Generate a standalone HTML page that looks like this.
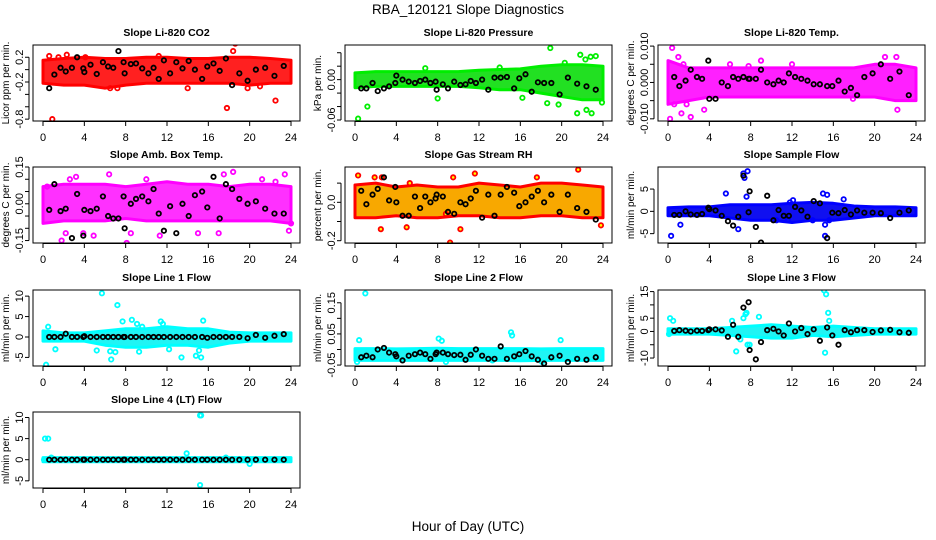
<!DOCTYPE html>
<html><head><meta charset="utf-8"><style>
html,body{margin:0;padding:0;background:#fff;}
svg{display:block;font-family:"Liberation Sans",Arial,sans-serif;}
</style></head><body>
<svg id="chart" width="936" height="540" viewBox="0 0 936 540" xmlns="http://www.w3.org/2000/svg">
<rect x="0" y="0" width="936" height="540" fill="#fff"/>
<text x="468" y="14" font-size="13.5" text-anchor="middle">RBA_120121  Slope Diagnostics</text>
<text x="468" y="531" font-size="13.5" text-anchor="middle">Hour of Day (UTC)</text>
</svg>
<script>
const hourTicks = [0,4,8,12,16,20,24];
const bandHours = [0,2,4,6,8,10,12,14,16,18,20,22,24];
const blackHours = [0.6,1.1,1.7,2.2,2.8,3.3,3.9,4.0,4.6,5.2,5.8,6.3,6.8,7.3,7.8,7.9,8.5,9.0,9.6,10.2,10.7,11.2,11.7,12.3,12.9,13.5,14.1,14.7,15.4,15.9,16.5,17.1,17.7,18.3,19.0,19.8,20.6,21.5,22.4,23.3];

const panelTitles = ["Slope Li-820 CO2","Slope Li-820 Pressure","Slope Li-820 Temp.","Slope Amb. Box Temp.","Slope Gas Stream RH","Slope Sample Flow","Slope Line 1 Flow","Slope Line 2 Flow","Slope Line 3 Flow","Slope Line 4 (LT) Flow"];
const yTitles = ["Licor ppm per min.","kPa per min.","degrees C per min.","degrees C per min.","percent per min.","ml/min per min.","ml/min per min.","ml/min per min.","ml/min per min.","ml/min per min."];
const yRanges = [[-0.83,0.398],[-0.0615,0.0515],[-0.0106,0.0103],[-0.16,0.15],[-0.212,0.184],[-7.1,9.95],[-7.1,11.5],[-0.053,0.191],[-13,15.6],[-6.7,11.3]];
const yTicks = [[0.2,0,-0.2,-0.4,-0.6,-0.8],[0.04,0.02,0,-0.02,-0.04,-0.06],[0.01,0.005,0,-0.005,-0.01],[0.15,0.1,0.05,0,-0.05,-0.1,-0.15],[0.1,0,-0.1,-0.2],[5,0,-5],[10,5,0,-5],[0.15,0.1,0.05,0,-0.05],[15,10,5,0,-5,-10],[10,5,0,-5]];
const yTickLabels = [["0.2","","-0.2","","","-0.8"],["","","0.00","","","-0.06"],["0.010","","0.000","","-0.010"],["0.15","","","0.00","","","-0.15"],["","0.0","","-0.2"],["5","0","-5"],["10","5","0","-5"],["0.15","","0.05","","-0.05"],["15","","5","0","","-10"],["10","5","0","-5"]];

const bandLo = [
[-0.22,-0.25,-0.25,-0.3,-0.25,-0.22,-0.22,-0.22,-0.22,-0.22,-0.25,-0.22,-0.22],
[-0.012,-0.01,-0.01,-0.01,-0.01,-0.01,-0.012,-0.015,-0.015,-0.02,-0.025,-0.03,-0.03],
[-0.006,-0.005,-0.004,-0.004,-0.004,-0.004,-0.004,-0.004,-0.004,-0.004,-0.004,-0.005,-0.005],
[-0.08,-0.07,-0.07,-0.07,-0.06,-0.07,-0.07,-0.07,-0.07,-0.07,-0.07,-0.07,-0.08],
[-0.08,-0.08,-0.07,-0.08,-0.08,-0.07,-0.07,-0.08,-0.08,-0.07,-0.07,-0.08,-0.08],
[-1,-1,-1,-1.5,-2,-2,-2.5,-2,-2,-1.5,-1,-1,-1],
[-1,-1,-1,-2,-2.5,-2.5,-2,-2,-2.5,-1.5,-1,-1,-1],
[-0.035,-0.035,-0.035,-0.035,-0.035,-0.035,-0.035,-0.035,-0.036,-0.035,-0.035,-0.035,-0.035],
[-1,-1,-1,-1.5,-2,-2.5,-2.5,-1.5,-2,-1.5,-1,-1,-1],
[-0.5,-0.5,-0.5,-0.5,-0.5,-0.5,-0.5,-0.5,-0.5,-0.5,-0.5,-0.5,-0.5]];
const bandHi = [
[0.15,0.18,0.2,0.18,0.18,0.2,0.2,0.18,0.18,0.2,0.2,0.18,0.15],
[0.01,0.012,0.012,0.012,0.012,0.012,0.014,0.015,0.016,0.02,0.022,0.022,0.02],
[0.006,0.004,0.004,0.004,0.004,0.004,0.004,0.004,0.004,0.004,0.005,0.005,0.004],
[0.07,0.08,0.08,0.08,0.07,0.08,0.09,0.08,0.08,0.07,0.08,0.08,0.07],
[0.09,0.1,0.08,0.09,0.08,0.08,0.1,0.09,0.08,0.1,0.1,0.09,0.08],
[0.8,1,1,1.5,1.5,1.5,1.8,2,1.8,1.2,1,1,0.8],
[1.5,1,1,1.5,2,2,2.5,2,2,1.2,1,1,1],
[0.003,0.003,0.002,0.003,0.004,0.003,0.003,0.003,0.003,0.002,0.003,0.003,0.003],
[1,1,1,1.5,2,2.5,2,1.5,2,1.5,1,1,1],
[0.5,0.5,0.5,0.5,0.5,0.5,0.5,0.5,0.5,0.5,0.5,0.5,0.5]];

const outX = [
[0.9,0.6,1.5,2.3,7.2,17.8,18.4,18.6,22.5,11.2,4.1,19.8,6.5,14,21],
[0.3,1.2,8.0,18.9,21.8,22.3,22.8,23.3,21.5,22.4,22.9,19.7,18.6,16.2,23.9,6.8,14.0,20.3],
[0.4,0.2,1.0,1.3,2.2,3.5,0.6,1.8,9.0,7.8,17.9,21.0,22.1,22.2,6.0,12.0,1.5],
[1.8,2.2,2.6,3.2,3.9,4.9,6.4,8.1,8.5,11.3,15.0,17.0,17.5,18.4,21.2,22.5,23.4,23.8,24.0,0.4,10.0],
[0.3,1.9,2.5,2.6,5.0,9.2,9.5,10.2,11.6,17.6,21.6,23.8,5.3,8.8],
[0.3,1.2,5.6,7.3,7.4,7.7,7.6,11.6,11.8,15.0,15.4,15.2,15.2,6.8,12.1,15.6,17.0,10.5,14.0],
[0.3,0.5,1.2,5.2,5.7,6.5,6.6,7.0,7.2,7.7,8.6,9.1,9.3,9.6,11.4,11.6,13.4,14.8,15.1,15.3,15.5,12.2,0.2],
[1.0,0.4,0.2,8.1,8.4,8.8,15.1,15.2,19.9,18.1,13.3],
[0.2,0.5,0.1,6.2,7.3,7.5,7.6,7.7,7.0,8.8,15.1,15.3,15.5,15.6,15.2,7.9,6.6],
[0.2,0.5,0.1,0.8,13.9,15.2,15.3,15.2,20,17.7]];
const outY = [
[-0.8,0.22,0.2,0.24,-0.3,-0.62,0.3,0.42,-0.5,0.22,0.2,-0.3,-0.3,-0.3,-0.27],
[-0.058,-0.04,-0.028,0.047,0.037,0.03,0.034,0.035,-0.05,-0.045,-0.05,-0.037,-0.035,-0.027,-0.034,0.017,0.018,0.025],
[0.0095,-0.01,0.007,-0.0085,-0.0095,-0.0075,-0.006,-0.006,0.006,0.0045,-0.0045,0.007,0.007,-0.0075,0.005,0.005,0.005],
[-0.15,-0.12,0.1,0.11,-0.12,-0.13,0.12,-0.16,-0.12,-0.13,-0.12,-0.12,0.12,0.13,0.1,0.09,0.12,-0.11,-0.08,0.07,0.1],
[0.14,0.13,-0.14,0.13,-0.13,-0.21,0.13,-0.14,0.15,0.13,0.17,-0.12,0.1,-0.06],
[-5.5,-3,4,8.5,7.5,9,3.3,-2,2,4,3.7,-5.5,-3,-4,2.5,-2,2.7,-2,-2],
[-6.8,2.5,-3,-3.3,10.7,-3.5,-5.5,-3.7,7.8,3.8,4.2,3.2,-3.6,2.5,3.8,3.2,-5,-4.6,-3.3,-5,4,-3,0.5],
[0.18,0.03,-0.04,0.035,0.028,-0.04,0.055,0.045,0.03,-0.04,-0.035],
[5,4,-1,4,5,6.5,7,-5,-3,5.5,15.5,14,7,4,-8,-5,-7.5],
[5,5,0,0.5,1.5,10.5,10.5,-6,-1,0.5]];

const blackY = [
[-0.3,-0.08,0.03,-0.03,0.03,0.2,0.02,-0.04,0.08,-0.07,0.12,0.05,0.03,0.3,0.12,-0.06,0.09,0.1,0.02,-0.06,0.03,-0.15,0.15,-0.06,0.12,0.02,0.14,0.0,-0.15,0.05,0.1,-0.02,0.18,-0.25,-0.06,-0.18,0.0,0.03,-0.1,0.06],
[-0.013,-0.013,-0.005,-0.017,-0.013,-0.01,-0.005,0.006,0.0,-0.003,-0.005,-0.002,0.0,-0.005,-0.003,-0.015,-0.007,-0.013,-0.003,-0.008,-0.007,-0.002,-0.005,0.0,-0.015,0.003,0.003,0.004,-0.013,0.002,0.008,-0.018,-0.004,-0.005,-0.005,-0.022,0.003,-0.006,-0.01,-0.015],
[0.0015,-0.001,0.0005,0.0035,0.0015,0.001,0.006,-0.0045,-0.0045,0.0,-0.001,0.0015,0.001,0.0015,0.001,0.001,0.001,0.0035,0.0,-0.0005,0.0005,0.0,0.0025,0.0015,0.001,0.0005,-0.0005,-0.0005,-0.001,-0.001,0.0005,-0.0025,-0.0015,-0.0035,0.0015,0.0025,0.005,0.001,0.003,-0.0035],
[-0.025,0.08,-0.03,-0.02,-0.14,0.04,-0.13,-0.025,-0.03,-0.02,0.03,-0.05,-0.06,-0.06,0.03,-0.1,0.0,0.02,0.03,0.01,0.06,-0.04,-0.11,-0.01,-0.12,0.0,-0.05,0.035,0.05,-0.015,0.11,-0.06,0.08,0.06,0.02,0.0,0.01,-0.02,-0.04,-0.04],
[0.06,-0.01,0.04,0.07,0.13,0.01,0.08,0.0,-0.07,-0.07,0.03,-0.03,0.03,0.0,0.02,0.04,0.03,-0.05,-0.06,0.0,-0.01,0.02,0.06,-0.08,0.04,-0.07,0.04,0.08,0.05,-0.02,0.0,0.03,0.06,0.0,0.04,-0.05,0.04,-0.03,-0.05,-0.09],
[-0.8,-0.8,0,-0.7,-0.8,-0.6,0.8,0.5,0.2,-1,-2.2,-3.2,-1.2,8,-0.2,4.5,-3.5,-7,3.5,-2,0.3,-1,-1,1,0.2,-1.2,2.3,1.8,-6,-0.3,-0.4,0.3,-0.7,0.2,-0.3,-0.3,-0.4,-1.5,-0.3,0.2],
[0,0,0,0.8,0,0,0,0.2,0,0,0,0,0,0,0,0,0,0,0,0,0,0,0,0,0,0,0,0,0,-0.2,0,0,0,0,0,-0.3,0.5,-0.2,0.3,0.7],
[-0.025,-0.02,-0.025,0.0,0.005,-0.01,-0.015,-0.022,-0.035,-0.02,-0.015,-0.01,-0.015,-0.03,-0.015,-0.01,-0.01,-0.015,-0.018,-0.017,-0.033,-0.017,0.0,-0.02,-0.03,-0.03,0.01,-0.03,-0.022,-0.015,-0.005,-0.022,-0.033,-0.045,-0.025,-0.02,-0.04,-0.03,-0.033,-0.025],
[0.2,0.5,0.3,0,0.3,0.2,0.5,0.8,0.8,0.4,-2,2.5,-2,9,11,-7,-10.5,-4,0.5,1,0,-1.5,3,0,1.3,-1,0.8,-3.5,1.5,-1.5,-5,0.5,-0.3,0.5,0.5,-0.2,0.4,0.6,-0.3,-0.5],
[0,0,0,0,0,0,0,0,0,0,0,0,0,0,0,0,0,0,0,0,0,0,0,0,0,0,0,0,0,0,0,0,0,0,0,0,0,0,0,0]];

const strokeColors = ["#ff0000","#00ee00","#ff00ff","#ff00ff","#ff0000","#0000ff","#00ffff","#00ffff","#00ffff","#00ffff"];
const bandColors = ["#ff2020","#22e022","#ff20ff","#ff30ff","#f8a800","#1010f0","#20f4f4","#20f4f4","#20f4f4","#20f4f4"];

const NS = "http://www.w3.org/2000/svg";
const svg = document.getElementById('chart');
const colLeft = [33,345,658], rowTop = [45,167,290,412];
const boxW = 267, boxH = 76;

function mk(tag, attrs, parent){
  const e = document.createElementNS(NS, tag);
  for (const k in attrs) e.setAttribute(k, attrs[k]);
  parent.appendChild(e);
  return e;
}

for (let p = 0; p < panelTitles.length; p++){
  const L = colLeft[p % 3], T = rowTop[Math.floor(p / 3)];
  const [ymin, ymax] = yRanges[p];
  const xs = h => L + 10 + h / 24 * 248;
  const ys = v => T + boxH - (v - ymin) / (ymax - ymin) * boxH;
  const g = mk('g', {}, svg);
  
  

  const clipId = 'clip' + p;
  const cp = mk('clipPath', {id: clipId}, g);
  mk('rect', {x: L, y: T, width: boxW, height: boxH}, cp);
  const plot = mk('g', {'clip-path': 'url(#' + clipId + ')'}, g);

  let d = '';
  for (let i = 0; i < bandHours.length; i++) d += (i ? 'L' : 'M') + xs(bandHours[i]).toFixed(1) + ',' + ys(bandHi[p][i]).toFixed(1);
  for (let i = bandHours.length - 1; i >= 0; i--) d += 'L' + xs(bandHours[i]).toFixed(1) + ',' + ys(bandLo[p][i]).toFixed(1);
  const band = mk('path', {d: d + 'Z', fill: bandColors[p], stroke: strokeColors[p], 'stroke-width': 3, 'stroke-linejoin': 'round'}, plot);
  
  

  const fillC = p === 4 ? '#ffff00' : 'none';
  for (let i = 0; i < Math.min(outX[p].length, outY[p].length); i++){
    const c = mk('circle', {cx: xs(outX[p][i]), cy: ys(outY[p][i]), r: 2.2, fill: fillC, stroke: strokeColors[p], 'stroke-width': 1.8}, plot);
    
    
  }
  for (let i = 0; i < Math.min(blackHours.length, blackY[p].length); i++){
    const c = mk('circle', {cx: xs(blackHours[i]), cy: ys(blackY[p][i]), r: 2.2, fill: 'none', stroke: '#000', 'stroke-width': 1.8}, plot);
    
    
  }

  const box = mk('rect', {x: L, y: T, width: boxW, height: boxH, fill: 'none', stroke: '#000', 'stroke-width': 1}, g);
  
  

  const title = mk('text', {x: L + boxW / 2, y: T - 9, 'font-size': 10.5, 'font-weight': 'bold', 'text-anchor': 'middle'}, g);
  title.textContent = panelTitles[p];
  
  

  mk('line', {x1: xs(0), x2: xs(24), y1: T + boxH + 0.5, y2: T + boxH + 0.5, stroke: '#000'}, g);
  hourTicks.forEach(h => {
    mk('line', {x1: xs(h), x2: xs(h), y1: T + boxH, y2: T + boxH + 5, stroke: '#000'}, g);
    const t = mk('text', {x: xs(h), y: T + boxH + 20, 'font-size': 11, 'text-anchor': 'middle'}, g);
    t.textContent = h;
    
    
  });

  const yt = yTicks[p];
  mk('line', {x1: L - 4, x2: L - 4, y1: ys(yt[0]), y2: ys(yt[yt.length - 1]), stroke: '#000'}, g);
  yt.forEach((v, i) => {
    mk('line', {x1: L - 8, x2: L - 4, y1: ys(v), y2: ys(v), stroke: '#000'}, g);
    const lab = yTickLabels[p][i];
    if (lab){
      const t = mk('text', {x: 0, y: 0, 'font-size': 11, 'text-anchor': 'middle', transform: 'translate(' + (L - 10) + ',' + ys(v) + ') rotate(-90)'}, g);
      t.textContent = lab;
      
      
    }
  });
  const yt2 = mk('text', {x: 0, y: 0, 'font-size': 10, 'text-anchor': 'middle', transform: 'translate(' + (L - 24) + ',' + (T + boxH / 2) + ') rotate(-90)'}, g);
  yt2.textContent = yTitles[p];
  
  
}
</script>
</body></html>
